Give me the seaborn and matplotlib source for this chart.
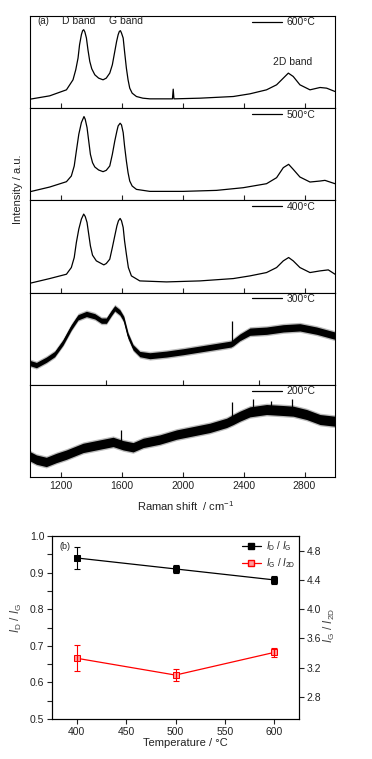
import numpy as np
import pandas as pd
import seaborn as sns
import matplotlib
matplotlib.use("Agg")
from matplotlib import pyplot as plt
from matplotlib.lines import Line2D
from matplotlib.ticker import MultipleLocator

# Raman spectra (intensity in arbitrary units, panel height ~276)
x600 = [1000, 1129, 1239, 1282, 1300, 1315, 1325, 1337, 1345, 1352, 1360, 1370, 1380, 1392, 1405, 1425,
        1450, 1479, 1500, 1523, 1540, 1556, 1568, 1578, 1586, 1593, 1600, 1611, 1620, 1632, 1643, 1654,
        1670, 1698, 1740, 1786, 1934, 1939, 1944, 2114, 2333, 2442, 2551, 2617, 2661, 2694, 2726, 2770,
        2836, 2902, 2945, 3000]
y600 = [27, 37, 55, 85, 115, 150, 190, 220, 232, 235, 228, 210, 175, 140, 118, 100,
        90, 85, 90, 105, 130, 170, 200, 220, 230, 232, 225, 210, 170, 120, 85, 60,
        45, 35, 30, 28, 28, 57, 28, 30, 35, 43, 55, 70, 90, 105, 95, 70,
        55, 62, 60, 50]

x500 = [1000, 1129, 1239, 1271, 1290, 1304, 1320, 1337, 1354, 1362, 1374, 1385, 1396, 1410, 1425, 1450,
        1479, 1500, 1523, 1540, 1556, 1570, 1578, 1591, 1600, 1611, 1620, 1632, 1643, 1654, 1670, 1698,
        1786, 2004, 2223, 2398, 2551, 2617, 2661, 2696, 2726, 2770, 2836, 2902, 2934, 3000]
y500 = [26, 40, 56, 73, 103, 148, 198, 233, 251, 243, 218, 178, 138, 113, 100, 91,
        86, 90, 103, 138, 178, 208, 223, 231, 226, 203, 163, 118, 83, 58, 43, 33,
        27, 27, 30, 38, 50, 68, 98, 108, 93, 70, 55, 58, 60, 50]

x400 = [1000, 1129, 1239, 1271, 1290, 1304, 1320, 1337, 1352, 1362, 1374, 1385, 1396, 1410, 1435, 1484,
        1500, 1523, 1540, 1556, 1570, 1580, 1591, 1600, 1611, 1620, 1632, 1645, 1665, 1720, 1895, 2114,
        2333, 2442, 2551, 2617, 2661, 2696, 2726, 2770, 2836, 2902, 2956, 3000]
y400 = [28, 42, 55, 75, 105, 150, 190, 220, 235, 228, 210, 175, 140, 112, 95, 83,
        87, 100, 135, 170, 200, 215, 222, 215, 195, 155, 115, 75, 50, 35, 32, 35,
        42, 50, 60, 75, 95, 105, 95, 75, 60, 65, 68, 55]

# noisy spectra: centre line, half-width of the noise band, and single spikes
x300 = [1000, 1042, 1107, 1162, 1217, 1271, 1315, 1370, 1425, 1468, 1501, 1534, 1556, 1589, 1615, 1643,
        1676, 1720, 1786, 1895, 2004, 2114, 2223, 2318, 2334, 2376, 2442, 2551, 2661, 2770, 2880, 3000]
y300 = [65, 59, 75, 92, 127, 172, 202, 212, 205, 192, 192, 215, 229, 217, 197, 147,
        112, 92, 87, 92, 99, 107, 115, 122, 127, 142, 159, 162, 169, 172, 162, 147]
n300 = [8, 8, 8, 8, 8, 8, 8, 8, 8, 8, 8, 8, 8, 8, 8, 8,
        8, 8, 9, 9, 9, 9, 9, 9, 10, 10, 11, 11, 11, 11, 11, 11]
spike300_x = [2326]
spike300_top = [192]

x200 = [1000, 1042, 1107, 1173, 1239, 1348, 1457, 1545, 1611, 1676, 1742, 1851, 1961, 2070, 2179,
        2289, 2333, 2376, 2442, 2551, 2661, 2726, 2814, 2902, 3000]
y200 = [62, 52, 45, 57, 67, 87, 97, 105, 95, 89, 102, 112, 127, 137, 147,
        162, 172, 182, 195, 202, 199, 197, 187, 172, 167]
n200 = [14, 14, 14, 14, 14, 14, 14, 14, 14, 14, 14, 14, 14, 14, 14,
        14, 15, 15, 15, 15, 15, 15, 15, 15, 15]
spike200_x = [1597, 2326, 2460, 2580, 2720]
spike200_top = [140, 225, 232, 228, 232]

temps_spec = ["600°C", "500°C", "400°C", "300°C", "200°C"]

# panel (b): intensity ratios
temp = [400, 500, 600]
id_ig = [0.94, 0.91, 0.88]
id_ig_err = [0.03, 0.01, 0.01]
ig_i2d = [3.33, 3.10, 3.41]
ig_i2d_err = [0.18, 0.08, 0.06]

sns.set_theme(style="ticks")
plt.rcParams["font.family"] = ["Liberation Sans", "DejaVu Sans"]
plt.rcParams["mathtext.fontset"] = "custom"
plt.rcParams["mathtext.rm"] = "Liberation Sans"
plt.rcParams["mathtext.it"] = "Liberation Sans:italic"
plt.rcParams["axes.linewidth"] = 0.8
plt.rcParams["text.color"] = "#222222"
plt.rcParams["xtick.color"] = "#222222"
plt.rcParams["ytick.color"] = "#222222"

W, H = 372, 759
fig = plt.figure(figsize=(W / 100, H / 100), dpi=100)

top0, ph = 16, 92.2
left, width = 30 / W, 305 / W
spectra = [(x600, y600, None, None, None), (x500, y500, None, None, None), (x400, y400, None, None, None),
           (x300, y300, n300, spike300_x, spike300_top), (x200, y200, n200, spike200_x, spike200_top)]

for i, (xs, ys, ns, sx, st) in enumerate(spectra):
    bottom = 1 - (top0 + (i + 1) * ph) / H
    ax = fig.add_axes([left, bottom, width, ph / H])
    if ns is not None:
        lo = np.array(ys) - np.array(ns)
        hi = np.array(ys) + np.array(ns)
        ax.fill_between(xs, lo - 4, hi + 4, color="#777777", alpha=0.5, lw=0)
        ax.fill_between(xs, lo, hi, color="black", lw=0)
        base = np.interp(sx, xs, ys)
        ax.vlines(sx, base, st, color="black", lw=0.9)
    sns.lineplot(x=xs, y=ys, ax=ax, color="black", lw=0.9)
    ax.set_xlim(1000, 3000)
    ax.set_ylim(0, 276)
    ax.set_yticks([])
    ax.set_ylabel("")
    if i == 3:
        ax.set_xticks([1500, 2000, 2500])
    else:
        ax.set_xticks([1200, 1600, 2000, 2400, 2800])
    ax.tick_params(axis="x", direction="in", length=3.5, width=0.8, labelsize=7.5, pad=3)
    if i < 4:
        ax.tick_params(axis="x", labelbottom=False)
    for s in ax.spines.values():
        s.set_linewidth(0.8)
        s.set_color("black")
    ax.legend(handles=[Line2D([], [], color="black", lw=0.9)], labels=[temps_spec[i]],
              loc="upper right", bbox_to_anchor=(0.935, 0.985), frameon=False,
              fontsize=7.5, handlelength=2.9, handletextpad=0.4, borderpad=0, borderaxespad=0)
    if i == 0:
        ax.text(1085, 262, "(a)", fontsize=7, ha="center", va="center")
        ax.text(1321, 262, "D band", fontsize=7.5, ha="center", va="center")
        ax.text(1632, 262, "G band", fontsize=7.5, ha="center", va="center")
        ax.text(2721, 139, "2D band", fontsize=7.5, ha="center", va="center")
    if i == 4:
        ax.set_xlabel("")

fig.text(18 / W, 1 - 189 / H, "Intensity / a.u.", rotation=90, fontsize=8, ha="center", va="center")
fig.text(186 / W, 1 - 506 / H, "Raman shift  / cm$^{-1}$", fontsize=8, ha="center", va="center")

# panel (b)
axb = fig.add_axes([52 / W, 1 - 719 / H, 247 / W, 183 / H])
axr = axb.twinx()
sns.lineplot(x=temp, y=id_ig, ax=axb, color="black", lw=0.9, marker="s", markersize=4.5,
             markeredgecolor="black")
axb.errorbar(temp, id_ig, yerr=id_ig_err, fmt="none", ecolor="black", elinewidth=0.8,
             capsize=2.5, capthick=0.8)
sns.lineplot(x=temp, y=ig_i2d, ax=axr, color="red", lw=0.9, marker="s", markersize=4,
             markerfacecolor="#ff9a9a", markeredgecolor="red")
axr.errorbar(temp, ig_i2d, yerr=ig_i2d_err, fmt="none", ecolor="red", elinewidth=0.8,
             capsize=2.5, capthick=0.8)

axb.set_xlim(375, 625)
axb.set_ylim(0.5, 1.0)
axr.set_ylim(2.5, 5.0)
axb.set_xticks([400, 450, 500, 550, 600])
axb.set_yticks([0.5, 0.6, 0.7, 0.8, 0.9, 1.0])
axb.yaxis.set_minor_locator(MultipleLocator(0.05))
axr.set_yticks([2.8, 3.2, 3.6, 4.0, 4.4, 4.8])
axb.tick_params(axis="both", which="major", direction="out", length=3.5, width=0.8, labelsize=7.5, pad=2)
axb.tick_params(axis="y", which="minor", direction="out", length=3.5, width=0.8)
axr.tick_params(axis="y", direction="out", length=3.5, width=0.8, labelsize=7.5, pad=2)
for a in (axb, axr):
    for s in a.spines.values():
        s.set_linewidth(0.8)
        s.set_color("black")
axb.set_xlabel("")
axb.set_ylabel("")
axr.set_ylabel("")
axb.text(0.03, 0.965, "(b)", transform=axb.transAxes, fontsize=6.5, ha="left", va="top")

fig.text(185 / W, 1 - 743 / H, "Temperature / °C", fontsize=8, ha="center", va="center")
fig.text(16 / W, 1 - 618 / H, r"$I_\mathrm{D}$ / $I_\mathrm{G}$", rotation=90, fontsize=8.5,
         ha="center", va="center", color="#444444")
fig.text(329 / W, 1 - 625 / H, r"$I_\mathrm{G}$ / $I_\mathrm{2D}$", rotation=90, fontsize=8.5,
         ha="center", va="center", color="#444444")

handles = [Line2D([], [], color="black", lw=0.9, marker="s", markersize=4.5),
           Line2D([], [], color="red", lw=0.9, marker="s", markersize=4,
                  markerfacecolor="#ff9a9a", markeredgecolor="red")]
axb.legend(handles=handles, labels=[r"$I_\mathrm{D}$ / $I_\mathrm{G}$", r"$I_\mathrm{G}$ / $I_\mathrm{2D}$"],
           loc="upper right", bbox_to_anchor=(0.985, 0.98), frameon=False, fontsize=7,
           handlelength=2.0, handletextpad=0.5, borderpad=0, borderaxespad=0, labelspacing=0.3)

fig.savefig("out.png", dpi=100)
